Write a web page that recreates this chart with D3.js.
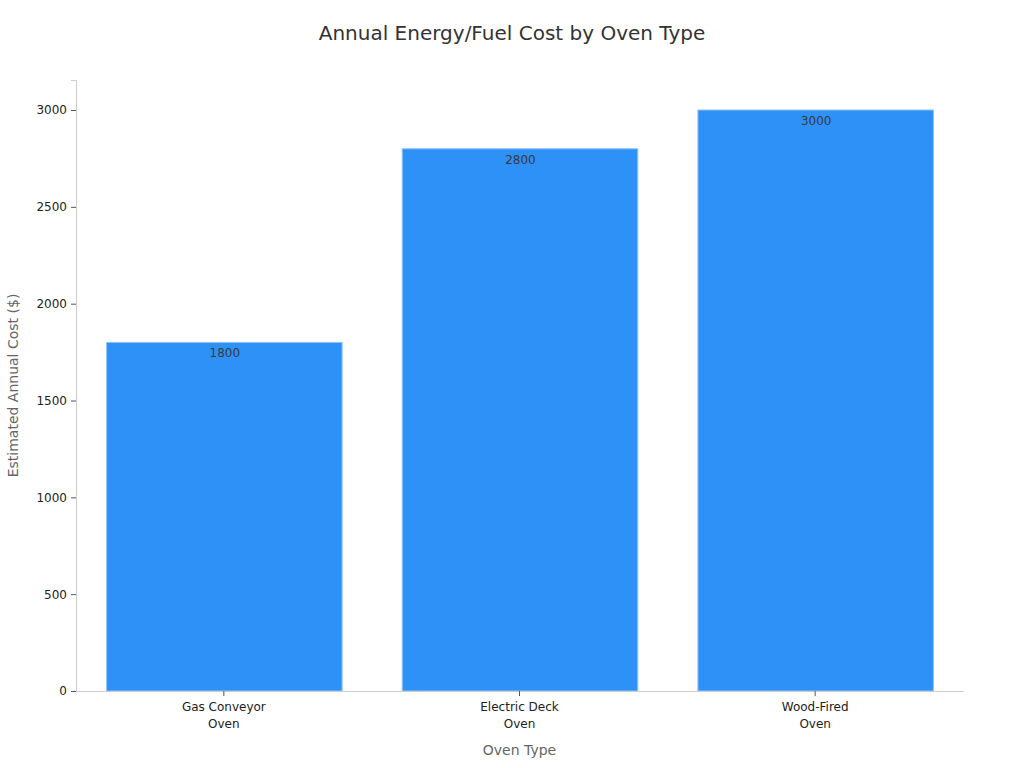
<!DOCTYPE html>
<html>
<head>
<meta charset="utf-8">
<script src="https://cdn.jsdelivr.net/npm/d3@7"></script>
<style>
  body { margin: 0; background: #fff; }
  text { font-family: "DejaVu Sans", sans-serif; }
</style>
</head>
<body>
<svg id="chart"></svg>
<script>
'use strict';

var categories = ['Gas Conveyor\nOven', 'Electric Deck\nOven', 'Wood-Fired\nOven'];
var costs = [1800, 2800, 3000];
var yTicks = [0, 500, 1000, 1500, 2000, 2500, 3000];

var width = 1024;
var height = 768;
var margin = {top: 80, right: 61, bottom: 77, left: 76};

var svg = d3.select('#chart')
    .attr('width', width)
    .attr('height', height);

var x = d3.scaleBand()
    .domain(categories)
    .range([margin.left, width - margin.right])
    .paddingInner(0.2)
    .paddingOuter(0.1);

var y = d3.scaleLinear()
    .domain([0, 3155])
    .range([height - margin.bottom, margin.top]);

// bars
svg.selectAll('rect.bar')
    .data(costs)
    .enter().append('rect')
    .attr('class', 'bar')
    .attr('x', function (d, i) {return x(categories[i]) + 1;})
    .attr('y', function (d) {return y(d);})
    .attr('width', x.bandwidth() - 1)
    .attr('height', function (d) {return y(0) - y(d);})
    .style('fill', '#2e91f8')
    .style('stroke', '#8cc4fb')
    .style('stroke-width', 1);

// value labels
svg.selectAll('text.value')
    .data(costs)
    .enter().append('text')
    .attr('class', 'value')
    .attr('x', function (d, i) {return x(categories[i]) + x.bandwidth() / 2 + 1;})
    .attr('y', function (d) {return y(d) + 15;})
    .attr('text-anchor', 'middle')
    .style('font-size', '12px')
    .style('fill', '#3a3a3a')
    .text(function (d) {return d;});

// y axis
var yAxis = svg.append('g')
    .attr('transform', 'translate(' + margin.left + ',0)')
    .call(d3.axisLeft(y).tickValues(yTicks).tickFormat(d3.format('d')).tickSize(5).tickPadding(4));
yAxis.select('.domain').style('stroke', '#ccc');
yAxis.selectAll('.tick line').style('stroke', '#555');
yAxis.selectAll('.tick text').style('font-size', '12px').style('fill', '#222')
    .style('font-family', '"DejaVu Sans", sans-serif');

// x axis
var xAxis = svg.append('g')
    .attr('transform', 'translate(0,' + (height - margin.bottom) + ')')
    .call(d3.axisBottom(x).tickSize(5).tickSizeOuter(0).tickPadding(4));
xAxis.select('.domain').style('stroke', '#ccc');
xAxis.selectAll('.tick line').style('stroke', '#555');
xAxis.selectAll('.tick text').each(function (d) {
    var t = d3.select(this);
    var lines = d.split('\n');
    t.text(null);
    lines.forEach(function (l, i) {
        t.append('tspan')
            .attr('x', 0)
            .attr('dy', i === 0 ? '0.95em' : '1.35em')
            .text(l);
    });
}).style('font-size', '12px').style('fill', '#222')
  .style('font-family', '"DejaVu Sans", sans-serif');

// title
svg.append('text')
    .attr('x', width / 2)
    .attr('y', 40)
    .attr('text-anchor', 'middle')
    .style('font-size', '20px')
    .style('fill', '#333')
    .text('Annual Energy/Fuel Cost by Oven Type');

// axis titles
svg.append('text')
    .attr('x', (margin.left + width - margin.right) / 2)
    .attr('y', 755)
    .attr('text-anchor', 'middle')
    .style('font-size', '14px')
    .style('fill', '#666')
    .text('Oven Type');

svg.append('text')
    .attr('transform', 'translate(18,' + ((margin.top + height - margin.bottom) / 2) + ') rotate(-90)')
    .attr('text-anchor', 'middle')
    .style('font-size', '14px')
    .style('fill', '#666')
    .text('Estimated Annual Cost ($)');
</script>
</body>
</html>
